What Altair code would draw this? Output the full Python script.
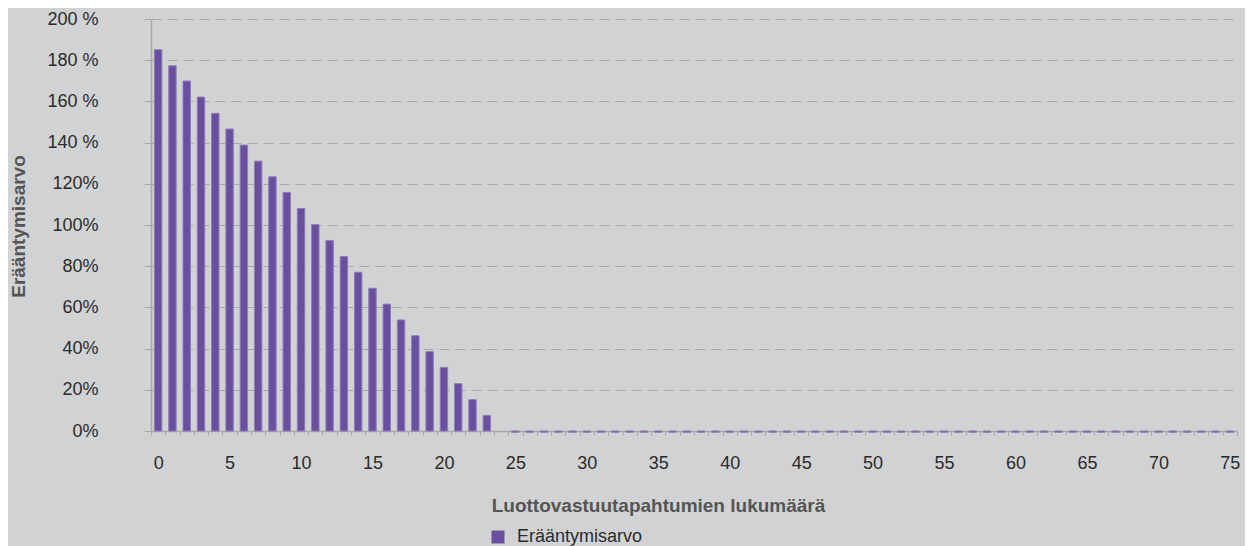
import altair as alt
import pandas as pd

# Number of credit events (category index) and maturity value (%)
events = list(range(0, 76))
values = [
    185.1, 177.3, 169.9, 162.1, 154.2, 146.6, 138.8, 131.0, 123.4, 115.8,
    108.0, 100.2, 92.5, 84.7, 77.1, 69.3, 61.6, 53.9, 46.2, 38.5,
    30.9, 23.0, 15.2, 7.6, 0.0,
    -0.6, -0.6, -0.6, -0.6, -0.6, -0.6, -0.6, -0.6, -0.6, -0.6,
    -0.6, -0.6, -0.6, -0.6, -0.6, -0.6, -0.6, -0.6, -0.6, -0.6,
    -0.6, -0.6, -0.6, -0.6, -0.6, -0.6, -0.6, -0.6, -0.6, -0.6,
    -0.6, -0.6, -0.6, -0.6, -0.6, -0.6, -0.6, -0.6, -0.6, -0.6,
    -0.6, -0.6, -0.6, -0.6, -0.6, -0.6, -0.6, -0.6, -0.6, -0.6,
    -0.6,
]
series_name = "Erääntymisarvo"
x_title = "Luottovastuutapahtumien lukumäärä"
y_title = "Erääntymisarvo"
y_ticks = [0, 20, 40, 60, 80, 100, 120, 140, 160, 180, 200]
x_label_values = [0, 5, 10, 15, 20, 25, 30, 35, 40, 45, 50, 55, 60, 65, 70, 75]

df = pd.DataFrame({"n": events, "v": values, "series": series_name})

BG = "#d1d2d4"
PURPLE = "#6a4f9e"
FONT = "Liberation Sans"

# x axis: ticks at every category boundary, labels at category centres
x_axis_values = [float(i) for i in range(0, 77)] + [k + 0.5 for k in x_label_values]

x_axis = alt.Axis(
    values=x_axis_values,
    labelExpr="(datum.value % 1 == 0.5) ? format(datum.value - 0.5, 'd') : ''",
    tickOpacity={"condition": {"test": "datum.value % 1 == 0", "value": 1}, "value": 0},
    tickSize=4,
    tickColor="#a8a8a8",
    domainColor="#a8a8a8",
    domainWidth=1.5,
    grid=False,
    labelOverlap=False,
    labelBound=False,
    labelFlush=False,
    labelFont=FONT,
    labelFontSize=18,
    labelColor="#2b2b2b",
    labelPadding=19,
    title=x_title,
    titleFont=FONT,
    titleFontSize=19,
    titleFontWeight="bold",
    titleColor="#555555",
    titleX=507,
    titleY=80,
    titleAlign="center",
    titleBaseline="alphabetic",
)

y_axis = alt.Axis(
    values=y_ticks,
    labelExpr="datum.value >= 140 ? datum.value + ' %' : datum.value + '%'",
    grid=True,
    gridColor="#a9a9a9",
    gridDash=[10, 6],
    gridWidth=1,
    tickSize=7,
    tickColor="#a8a8a8",
    domainColor="#a8a8a8",
    domainWidth=1.5,
    labelFont=FONT,
    labelFontSize=18,
    labelColor="#2b2b2b",
    labelPadding=46,
    title=y_title,
    titleFont=FONT,
    titleFontSize=19,
    titleFontWeight="bold",
    titleColor="#555555",
    titleAngle=270,
    titleX=-133,
    titleY=207,
    titleAlign="center",
    titleBaseline="middle",
)

bars = (
    alt.Chart(df)
    .transform_calculate(x0="datum.n + 0.24", x1="datum.n + 0.76")
    .mark_bar(strokeWidth=1)
    .encode(
        x=alt.X("x0:Q", scale=alt.Scale(domain=[0, 76], nice=False, zero=False), axis=x_axis),
        x2="x1:Q",
        y=alt.Y("v:Q", scale=alt.Scale(domain=[0, 200], nice=False), axis=y_axis),
        y2=alt.datum(0),
        color=alt.Color(
            "series:N",
            scale=alt.Scale(domain=[series_name], range=[PURPLE]),
            legend=alt.Legend(
                title=None,
                orient="none",
                legendX=338,
                legendY=509,
                symbolType="square",
                symbolSize=169,
                symbolStrokeWidth=0,
                labelFont=FONT,
                labelFontSize=18,
                labelColor="#2b2b2b",
                labelOffset=10,
            ),
        ),
        stroke=alt.condition("datum.v != 0", alt.value("#8d7dbb"), alt.value("transparent")),
        tooltip=["n:Q", "v:Q"],
    )
)

chart = (
    bars.properties(
        width=1086,
        height=412,
        background=BG,
        padding={"left": 143, "top": 11, "right": 8, "bottom": 115},
        autosize=alt.AutoSizeParams(type="none"),
    )
    .configure_view(stroke=None)
)

chart.save("out.html", embed_options={"renderer": "svg", "actions": False})
